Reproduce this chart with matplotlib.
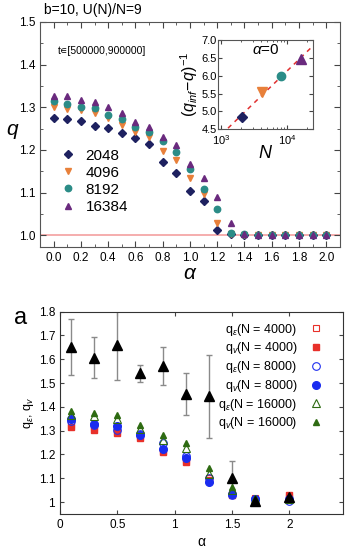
import numpy as np
import matplotlib
matplotlib.use("Agg")
import matplotlib.pyplot as plt
from matplotlib.ticker import MultipleLocator, LogLocator, NullFormatter

plt.rcParams['font.family'] = ['Liberation Sans', 'DejaVu Sans']
plt.rcParams['mathtext.fontset'] = 'custom'
plt.rcParams['mathtext.rm'] = 'Liberation Sans'
plt.rcParams['mathtext.it'] = 'Liberation Sans:italic'

# ---------------- data: top panel ----------------
alpha_top = [0.0, 0.1, 0.2, 0.3, 0.4, 0.5, 0.6, 0.7, 0.8, 0.9, 1.0,
             1.1, 1.2, 1.3, 1.4, 1.5, 1.6, 1.7, 1.8, 1.9, 2.0]
q_2048 = [1.274, 1.273, 1.268, 1.256, 1.251, 1.241, 1.227, 1.215, 1.171, 1.147, 1.104,
          1.080, 1.013, 1.002, 1.001, 1.000, 1.000, 1.000, 1.000, 1.000, 1.000]
q_4096 = [1.301, 1.296, 1.293, 1.286, 1.276, 1.258, 1.243, 1.231, 1.198, 1.176, 1.135,
          1.096, 1.029, 1.003, 1.001, 1.000, 1.000, 1.000, 1.000, 1.000, 1.000]
q_8192 = [1.315, 1.308, 1.301, 1.299, 1.283, 1.273, 1.254, 1.243, 1.222, 1.196, 1.155,
          1.108, 1.062, 1.006, 1.002, 1.000, 1.000, 1.000, 1.000, 1.000, 1.000]
q_16384 = [1.327, 1.327, 1.318, 1.313, 1.301, 1.287, 1.265, 1.254, 1.231, 1.211, 1.167,
           1.134, 1.089, 1.030, 1.003, 1.001, 1.000, 1.000, 1.000, 1.000, 1.000]

# inset (alpha = 0)
N_inset = [2048, 4096, 8192, 16384]
inv_gap = [4.84, 5.53, 6.00, 6.47]

# ---------------- data: bottom panel ----------------
alpha_bot = [0.1, 0.3, 0.5, 0.7, 0.9, 1.1, 1.3, 1.5, 1.7, 2.0]
qe_4000 = [1.325, 1.311, 1.297, 1.276, 1.215, 1.178, 1.100, 1.035, 1.018, 1.020]
qv_4000 = [1.315, 1.301, 1.290, 1.269, 1.210, 1.170, 1.093, 1.030, 1.015, 1.028]
qe_8000 = [1.339, 1.325, 1.304, 1.287, 1.248, 1.195, 1.100, 1.028, 1.012, 1.005]
qv_8000 = [1.349, 1.328, 1.321, 1.281, 1.224, 1.184, 1.086, 1.034, 1.015, 1.012]
qe_16000 = [1.367, 1.360, 1.350, 1.308, 1.262, 1.226, 1.120, 1.050, 1.015, 1.015]
qv_16000 = [1.381, 1.374, 1.364, 1.322, 1.283, 1.248, 1.145, 1.065, 1.018, 1.022]

alpha_blk = [0.1, 0.3, 0.5, 0.7, 0.9, 1.1, 1.3, 1.5, 1.7, 2.0]
q_blk = [1.650, 1.606, 1.660, 1.543, 1.572, 1.456, 1.444, 1.100, 1.005, 1.020]
err_lo = [1.536, 1.520, 1.512, 1.505, 1.492, 1.367, 1.269, 1.030, 1.005, 1.020]
err_hi = [1.768, 1.693, 1.810, 1.575, 1.653, 1.543, 1.616, 1.174, 1.005, 1.020]

fig = plt.figure(figsize=(3.54, 5.5), dpi=100)

# =============== top panel ===============
ax1 = fig.add_axes([0.113, 0.5504, 0.847, 0.4096])
ax1.axhline(1.0, color='#f4a0a0', lw=1.2, zorder=1)
ms = 4.6
ax1.plot(alpha_top, q_2048, 'D', color='#1e2160', ms=3.9, ls='none', label='2048')
ax1.plot(alpha_top, q_4096, 'v', color='#e8803a', ms=ms, ls='none', label='4096')
ax1.plot(alpha_top, q_8192, 'o', color='#2b8c87', ms=ms, ls='none', label='8192')
ax1.plot(alpha_top, q_16384, '^', color='#6a2a7e', ms=ms, ls='none', label='16384')
ax1.set_xlim(-0.1, 2.1)
ax1.set_ylim(0.972, 1.5)
ax1.xaxis.set_major_locator(MultipleLocator(0.2))
ax1.xaxis.set_minor_locator(MultipleLocator(0.1))
ax1.yaxis.set_major_locator(MultipleLocator(0.1))
ax1.yaxis.set_minor_locator(MultipleLocator(0.05))
ax1.xaxis.set_major_formatter(matplotlib.ticker.FormatStrFormatter('%.1f'))
ax1.yaxis.set_major_formatter(matplotlib.ticker.FormatStrFormatter('%.1f'))
ax1.tick_params(which='both', direction='in', top=True, right=True, labelsize=8.5,
                color='#444444')
ax1.tick_params(which='major', length=4)
ax1.tick_params(which='minor', length=2)
for s in ax1.spines.values():
    s.set_color('#555555')
ax1.set_xlabel(r'$\it{\alpha}$', fontsize=15, labelpad=0)
ax1.set_ylabel(r'$q$', fontsize=15, rotation=0, labelpad=8)
ax1.yaxis.set_label_coords(-0.09, 0.47)
ax1.text(0.015, 1.02, 'b=10, U(N)/N=9', transform=ax1.transAxes, fontsize=10,
         ha='left', va='bottom')
ax1.text(0.06, 0.86, 't\u220a[500000,900000]', transform=ax1.transAxes, fontsize=7.5)
ax1.legend(loc='upper left', bbox_to_anchor=(0.02, 0.485), frameon=False, fontsize=11,
           handletextpad=0.4, labelspacing=0.2, borderpad=0.2, handlelength=1.5)

# inset
axi = fig.add_axes([0.617, 0.765, 0.268, 0.1625])
coef = np.polyfit(np.log10(N_inset), inv_gap, 1)
xs = np.logspace(2.9, 4.5, 50)
axi.plot(xs, np.polyval(coef, np.log10(xs)), '--', color='#e03030', lw=1.1, dashes=(3, 3))
axi.plot(N_inset[0], inv_gap[0], 'D', color='#1e2160', ms=5)
axi.plot(N_inset[1], inv_gap[1], 'v', color='#e8803a', ms=7)
axi.plot(N_inset[2], inv_gap[2], 'o', color='#2b8c87', ms=6)
axi.plot(N_inset[3], inv_gap[3], '^', color='#6a2a7e', ms=7)
axi.set_xscale('log')
axi.set_xlim(900, 25000)
axi.set_ylim(4.5, 7.0)
axi.yaxis.set_major_locator(MultipleLocator(0.5))
axi.yaxis.set_major_formatter(matplotlib.ticker.FormatStrFormatter('%.1f'))
axi.xaxis.set_major_locator(LogLocator(base=10))
axi.xaxis.set_minor_locator(LogLocator(base=10, subs=np.arange(2, 10)))
axi.xaxis.set_minor_formatter(NullFormatter())
axi.tick_params(which='both', direction='in', top=True, right=True, labelsize=8,
                color='#444444')
axi.tick_params(axis='x', pad=2.5)
axi.tick_params(axis='y', pad=1)
axi.tick_params(which='major', length=3)
axi.tick_params(which='minor', length=1.5)
for s in axi.spines.values():
    s.set_color('#555555')
axi.text(0.5, 0.84, r'$\alpha$=0', transform=axi.transAxes, fontsize=11, ha='center')
axi.set_xlabel(r'$N$', fontsize=13, labelpad=-1)
axi.set_ylabel(r'$(q_{inf}\!-\!q)^{-1}$', fontsize=11.5, labelpad=1)

# =============== bottom panel ===============
ax2 = fig.add_axes([0.1695, 0.0655, 0.8, 0.3678])
lo = np.array(q_blk) - np.array(err_lo)
hi = np.array(err_hi) - np.array(q_blk)
ax2.errorbar(alpha_blk, q_blk, yerr=[lo, hi], fmt='none', ecolor='#8a8a8a', elinewidth=1,
             capsize=2, capthick=1, zorder=2)
ax2.plot(alpha_bot, qe_4000, 's', mfc='none', mec='#e8302a', ms=5, mew=0.8,
         label=r'q$_\varepsilon$(N = 4000)', zorder=3)
ax2.plot(alpha_bot, qv_4000, 's', color='#e8302a', ms=5,
         label=r'q$_v$(N = 4000)', zorder=3)
ax2.plot(alpha_bot, qe_8000, 'o', mfc='none', mec='#2030f0', ms=5.5, mew=0.8,
         label=r'q$_\varepsilon$(N = 8000)', zorder=4)
ax2.plot(alpha_bot, qv_8000, 'o', color='#1a2cf0', ms=5.5,
         label=r'q$_v$(N = 8000)', zorder=4)
ax2.plot(alpha_bot, qe_16000, '^', mfc='none', mec='#2e6b12', ms=5.5, mew=0.8,
         label=r'q$_\varepsilon$(N = 16000)', zorder=5)
ax2.plot(alpha_bot, qv_16000, '^', color='#2e6b12', ms=5,
         label=r'q$_v$(N = 16000)', zorder=5)
ax2.plot(alpha_blk, q_blk, '^', color='black', ms=7, zorder=6)
ax2.set_xlim(0, 2.47)
ax2.set_ylim(0.95, 1.8)
ax2.set_xticks([0, 0.5, 1, 1.5, 2])
ax2.set_xticklabels(['0', '0.5', '1', '1.5', '2'])
ax2.set_yticks([1, 1.1, 1.2, 1.3, 1.4, 1.5, 1.6, 1.7, 1.8])
ax2.set_yticklabels(['1', '1.1', '1.2', '1.3', '1.4', '1.5', '1.6', '1.7', '1.8'])
ax2.tick_params(direction='in', top=True, right=True, labelsize=8.5, length=3,
                color='#444444')
for s in ax2.spines.values():
    s.set_color('#333333')
    s.set_linewidth(0.8)
ax2.set_xlabel(r'$\mathrm{\alpha}$', fontsize=10, labelpad=3)
ax2.set_ylabel(r'q$_\varepsilon$, q$_v$', fontsize=9, labelpad=2)
fig.text(0.04, 0.41, 'a', fontsize=17)
ax2.legend(loc='upper right', bbox_to_anchor=(0.965, 1.0), frameon=False, fontsize=9,
           markerfirst=False, handletextpad=0.9, labelspacing=0.22, borderpad=0.3,
           handlelength=1.2)

fig.savefig('out.png', dpi=100)
